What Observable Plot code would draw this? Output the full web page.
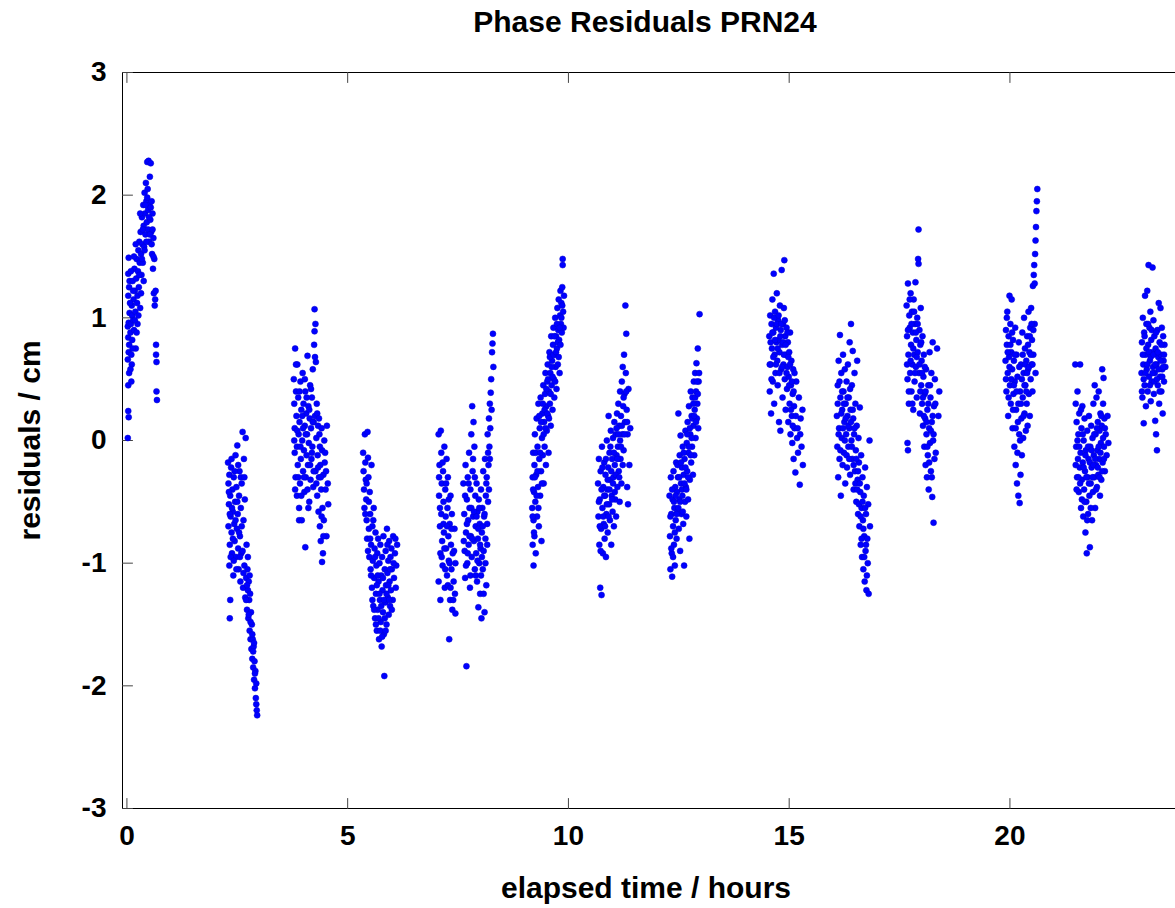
<!DOCTYPE html>
<html><head><meta charset="utf-8">
<script src="https://cdn.jsdelivr.net/npm/d3@7"></script>
<script src="https://cdn.jsdelivr.net/npm/@observablehq/plot@0.6"></script>
<style>
body{margin:0;background:#fff;overflow:hidden;font-family:"Liberation Sans",Arial,sans-serif}
#title{height:50px;width:1046px;margin-left:122px;text-align:center;font-weight:bold;font-size:30px;line-height:44px;color:#000}
</style></head><body>
<div id="title">Phase Residuals PRN24</div>
<div id="chart"></div>
<script>
const xTicks = [0, 5, 10, 15, 20];
const yTicks = [-3, -2, -1, 0, 1, 2, 3];
const xDomain = [-0.1, 23.75];
const yDomain = [-3, 3];
const xLabel = "elapsed time / hours";
const yLabel = "residuals / cm";

const pass01 = [[0.02,0.02],[0.03,0.24],[0.04,0.19],[0.03,0.45],[0.05,0.55],[0.02,0.66],[0.04,0.72],[0.03,0.84],[0.05,0.78],[0.02,0.93],[0.04,0.96],[0.06,1.04],[0.03,1.18],[0.05,1.25],[0.03,1.36],[0.06,1.30],[0.04,1.49],[0.08,0.88],[0.09,0.95],[0.10,0.70],[0.11,1.10],[0.12,1.02],[0.12,0.82],[0.13,1.30],[0.14,0.98],[0.15,1.15],[0.16,0.90],[0.17,1.40],[0.18,1.22],[0.19,1.05],[0.20,0.75],[0.21,1.32],[0.22,1.48],[0.23,1.12],[0.24,0.95],[0.25,1.38],[0.26,1.55],[0.27,1.25],[0.28,1.62],[0.29,1.45],[0.30,1.08],[0.31,1.70],[0.32,1.52],[0.33,1.35],[0.34,1.82],[0.35,1.60],[0.36,1.45],[0.37,1.92],[0.38,1.75],[0.39,1.58],[0.40,2.02],[0.41,1.85],[0.42,1.68],[0.43,2.10],[0.44,1.95],[0.45,1.78],[0.46,2.27],[0.47,2.05],[0.48,1.88],[0.49,2.28],[0.50,1.62],[0.51,1.92],[0.52,2.15],[0.53,1.80],[0.54,2.26],[0.55,1.70],[0.56,1.95],[0.57,1.52],[0.58,1.85],[0.59,1.40],[0.60,1.65],[0.61,1.20],[0.62,1.48],[0.63,1.10],[0.64,1.15],[0.65,1.22],[0.66,0.78],[0.66,0.70],[0.67,0.64],[0.67,0.40],[0.68,0.33],
  [0.07,1.12],[0.09,1.38],[0.11,0.62],[0.13,0.75],[0.14,1.22],[0.16,1.50],[0.18,0.98],[0.20,1.60],[0.22,0.88],[0.24,1.18],[0.26,1.02],[0.28,1.35],[0.30,1.85],[0.32,1.20],[0.34,1.48],[0.36,1.72],[0.38,1.30],[0.40,1.55],[0.42,1.92],[0.44,1.62],[0.46,1.98],[0.48,1.72],[0.50,1.82],[0.52,1.68],[0.54,1.90],[0.56,1.60],[0.58,1.72],[0.60,1.50],[0.08,0.58],[0.10,0.48]];
const pass02 = [[2.29,-0.18],[2.30,-0.35],[2.31,-0.52],[2.30,-0.70],[2.32,-0.28],[2.33,-0.85],[2.32,-1.02],[2.34,-0.45],[2.35,-0.62],[2.34,-1.30],[2.33,-1.45],[2.36,-0.22],[2.37,-0.75],[2.38,-0.92],[2.39,-0.40],[2.40,-0.58],[2.41,-1.10],[2.42,-0.30],[2.43,-0.68],[2.44,-0.82],[2.45,-0.50],[2.46,-0.12],[2.47,-0.95],[2.48,-0.38],[2.49,-0.72],[2.50,-0.04],[2.51,-0.60],[2.52,-0.88],[2.53,-1.05],[2.54,-0.45],[2.55,-0.25],[2.56,-0.78],[2.57,-1.15],[2.58,-0.55],[2.59,-0.92],[2.60,-0.35],[2.62,0.07],[2.63,-1.20],[2.64,-0.65],[2.65,-0.15],[2.66,-1.02],[2.67,-0.48],[2.68,-1.28],[2.69,0.02],[2.70,-1.12],[2.71,-0.85],[2.72,-1.38],[2.73,-1.05],[2.74,-1.22],[2.74,-0.95],[2.75,-1.45],[2.76,-1.15],[2.77,-1.30],[2.78,-1.55],[2.78,-1.10],[2.79,-1.25],[2.80,-1.62],[2.81,-1.40],[2.82,-1.70],[2.83,-1.50],[2.84,-1.78],[2.85,-1.62],[2.86,-1.85],[2.87,-1.68],[2.88,-1.95],[2.89,-1.80],[2.90,-2.02],[2.91,-1.88],[2.92,-2.10],[2.93,-1.98],[2.94,-2.20],[2.95,-2.24],
  [2.31,-0.42],[2.33,-0.60],[2.35,-0.95],[2.37,-0.15],[2.38,-0.55],[2.40,-0.80],[2.42,-0.98],[2.44,-0.25],[2.46,-0.65],[2.48,-1.05],[2.50,-0.50],[2.52,-0.20],[2.54,-0.75],[2.56,-0.95],[2.58,-0.30],[2.60,-0.70],[2.62,-0.90],[2.64,-1.08],[2.66,-0.30],[2.70,-1.30],[2.72,-1.18],[2.76,-1.42],[2.80,-1.48],[2.84,-1.58],[2.86,-1.72],[2.88,-1.65],[2.90,-1.90],[2.93,-2.15]];
const pass03 = [[3.78,0.50],[3.79,0.30],[3.80,0.10],[3.80,-0.10],[3.81,0.75],[3.82,-0.30],[3.83,0.40],[3.84,0.20],[3.85,-0.05],[3.85,-0.45],[3.86,0.62],[3.87,-0.20],[3.88,0.35],[3.89,0.05],[3.90,-0.55],[3.90,-0.65],[3.91,0.15],[3.92,-0.35],[3.93,0.48],[3.94,-0.15],[3.95,0.25],[3.96,-0.65],[3.97,0.00],[3.98,0.55],[3.99,-0.25],[4.00,0.30],[4.01,-0.08],[4.02,-0.42],[4.03,0.12],[4.04,0.40],[4.04,-0.87],[4.05,-0.30],[4.06,0.22],[4.07,-0.12],[4.08,0.05],[4.09,0.69],[4.10,-0.20],[4.11,0.28],[4.12,-0.02],[4.13,-0.50],[4.14,0.18],[4.15,0.45],[4.16,-0.32],[4.17,0.10],[4.18,-0.15],[4.19,0.35],[4.20,-0.05],[4.21,0.58],[4.22,-0.38],[4.23,0.15],[4.24,0.78],[4.25,1.07],[4.25,0.89],[4.26,0.68],[4.26,0.20],[4.27,0.95],[4.27,-0.25],[4.28,0.64],[4.29,0.02],[4.30,0.30],[4.31,-0.45],[4.32,-0.12],[4.33,0.12],[4.34,-0.58],[4.35,-0.30],[4.36,0.05],[4.37,-0.70],[4.38,-0.20],[4.39,-0.82],[4.40,-0.40],[4.41,0.10],[4.42,-0.08],[4.42,-0.99],[4.43,-0.55],[4.44,-0.92],[4.45,-0.28],[4.46,-0.65],[4.47,0.00],[4.48,-0.18],[4.50,-0.40],[4.52,-0.78],[4.53,0.12],[4.55,-0.35],[4.56,-0.52],
  [3.79,0.00],[3.81,-0.40],[3.83,0.62],[3.86,0.08],[3.88,-0.30],[3.91,0.40],[3.93,-0.05],[3.95,-0.45],[3.97,0.20],[3.99,0.10],[4.01,-0.30],[4.03,0.50],[4.05,0.05],[4.07,0.35],[4.09,-0.40],[4.11,-0.55],[4.13,0.25],[4.15,-0.20],[4.17,0.42],[4.19,-0.10],[4.21,0.15],[4.23,-0.25],[4.29,-0.35],[4.31,0.22],[4.33,-0.22],[4.35,0.18],[4.37,-0.05],[4.39,-0.30],[4.41,-0.62],[4.45,-0.78],[4.49,-0.10],[4.51,-0.25]];
const pass04 = [[5.35,-0.10],[5.36,-0.25],[5.37,-0.40],[5.38,-0.55],[5.39,0.05],[5.40,-0.18],[5.41,-0.32],[5.42,-0.48],[5.43,-0.65],[5.44,-0.80],[5.45,0.07],[5.46,-0.14],[5.47,-0.30],[5.48,-0.72],[5.49,-0.95],[5.50,-0.42],[5.51,-0.60],[5.52,-1.05],[5.53,-0.85],[5.54,-0.20],[5.55,-1.20],[5.56,-0.70],[5.57,-0.98],[5.58,-1.35],[5.59,-0.55],[5.60,-1.12],[5.61,-0.88],[5.62,-1.45],[5.63,-0.75],[5.64,-1.25],[5.65,-1.02],[5.66,-1.55],[5.67,-0.92],[5.68,-1.38],[5.69,-0.80],[5.70,-1.15],[5.71,-1.62],[5.72,-1.00],[5.73,-1.30],[5.74,-0.85],[5.75,-1.48],[5.76,-1.10],[5.77,-1.68],[5.78,-0.95],[5.79,-1.22],[5.80,-1.40],[5.81,-0.78],[5.82,-1.58],[5.83,-1.92],[5.84,-1.05],[5.85,-1.32],[5.86,-0.90],[5.87,-1.18],[5.88,-1.50],[5.89,-0.72],[5.90,-1.08],[5.91,-1.28],[5.92,-0.98],[5.93,-1.42],[5.94,-0.82],[5.95,-1.15],[5.96,-1.35],[5.97,-0.95],[5.98,-1.22],[5.99,-0.88],[6.00,-1.05],[6.02,-1.30],[6.03,-0.78],[6.05,-1.12],[6.07,-0.92],[6.09,-1.20],[6.10,-1.02],[6.12,-0.85],
  [5.40,-0.60],[5.43,-0.35],[5.46,-0.90],[5.48,-0.50],[5.51,-0.80],[5.53,-1.10],[5.56,-1.30],[5.58,-0.65],[5.60,-1.38],[5.62,-0.95],[5.64,-1.50],[5.66,-1.18],[5.68,-1.10],[5.70,-1.45],[5.72,-1.25],[5.74,-1.55],[5.76,-1.35],[5.78,-1.60],[5.80,-1.12],[5.82,-1.30],[5.84,-1.45],[5.86,-1.55],[5.88,-1.25],[5.90,-0.85],[5.92,-1.18],[5.94,-1.30],[5.96,-1.05],[6.00,-1.38],[6.04,-1.00],[6.08,-0.80]];
const pass05 = [[7.06,0.05],[7.08,-0.20],[7.07,-0.45],[7.09,-0.70],[7.10,-0.92],[7.06,-1.15],[7.11,0.08],[7.12,-0.10],[7.13,-0.35],[7.12,-0.60],[7.14,-0.82],[7.15,-1.02],[7.16,-0.25],[7.17,-0.50],[7.18,-0.75],[7.19,-0.05],[7.20,-1.20],[7.21,-0.40],[7.22,-0.62],[7.23,-0.88],[7.24,-0.15],[7.25,-1.10],[7.26,-0.55],[7.27,-0.30],[7.28,-0.78],[7.29,-0.98],[7.30,-1.62],[7.31,-0.68],[7.32,-1.30],[7.33,-0.45],[7.34,-0.85],[7.35,-1.05],[7.36,-0.60],[7.37,-1.38],[7.38,-0.92],[7.40,-1.15],[7.42,-0.72],[7.43,-1.25],[7.44,-1.00],
  [7.07,-0.30],[7.09,-0.55],[7.10,-1.30],[7.13,-0.95],[7.15,-0.18],[7.17,-0.68],[7.19,-0.88],[7.21,-1.05],[7.23,-0.35],[7.25,-0.70],[7.27,-1.18],[7.29,-0.48],[7.31,-1.00],[7.33,-1.20],[7.35,-0.72],[7.39,-1.30],[7.41,-0.90],[7.44,-1.41]];
const pass06 = [[7.62,-0.35],[7.64,-0.60],[7.65,-0.90],[7.66,-1.12],[7.67,-0.20],[7.68,-0.75],[7.69,-1.84],[7.70,-0.48],[7.71,-1.00],[7.72,-0.30],[7.73,-0.65],[7.74,-0.85],[7.75,-0.10],[7.76,-0.55],[7.77,-1.20],[7.78,-0.40],[7.79,-0.78],[7.80,0.05],[7.81,-0.95],[7.82,0.28],[7.83,-0.25],[7.84,-0.62],[7.85,0.15],[7.86,-0.82],[7.87,-0.05],[7.88,-1.05],[7.89,-0.45],[7.90,-0.70],[7.91,-0.92],[7.92,-0.35],[7.93,-1.15],[7.94,-0.58],[7.95,-0.80],[7.96,-1.36],[7.97,-0.48],[7.98,-1.00],[7.99,-0.68],[8.00,-1.25],[8.01,-0.88],[8.02,-0.40],[8.03,-1.45],[8.04,-0.75],[8.05,-0.55],[8.06,-1.05],[8.07,-0.25],[8.08,-0.90],[8.09,-0.62],[8.10,-1.40],[8.11,-0.15],[8.12,-0.80],[8.13,-0.45],[8.14,-1.18],[8.15,-0.30],[8.16,-0.68],[8.17,0.05],[8.18,-0.50],[8.19,-0.20],[8.20,0.18],[8.21,-0.05],[8.22,0.30],[8.23,0.10],[8.24,0.39],[8.25,0.50],[8.26,0.25],[8.27,0.72],[8.28,0.79],[8.29,0.87],[8.30,0.60],
  [7.63,-0.82],[7.66,-0.45],[7.68,-1.02],[7.70,-0.68],[7.72,-0.92],[7.74,-0.35],[7.76,-0.78],[7.78,-1.10],[7.80,-0.55],[7.82,-0.80],[7.84,-0.15],[7.86,-0.58],[7.88,-0.30],[7.90,-1.10],[7.92,-0.62],[7.94,-0.98],[7.96,-0.72],[7.98,-0.55],[8.00,-0.85],[8.02,-1.10],[8.04,-0.95],[8.06,-0.70],[8.08,-1.25],[8.10,-0.60],[8.12,-1.00],[8.14,-0.35],[8.16,-0.85],[8.18,-0.10],[8.20,-0.40],[8.22,-0.15]];
const pass07 = [[9.18,-0.55],[9.19,-0.30],[9.19,-0.85],[9.20,-0.10],[9.21,-0.65],[9.21,-1.02],[9.22,-0.42],[9.23,-0.20],[9.23,-0.78],[9.24,0.05],[9.25,-0.50],[9.26,-0.92],[9.27,-0.28],[9.28,0.18],[9.29,-0.62],[9.30,-0.05],[9.31,-0.38],[9.32,0.30],[9.33,-0.70],[9.34,-0.15],[9.35,0.10],[9.36,-0.45],[9.37,0.35],[9.38,-0.25],[9.39,-0.82],[9.40,0.02],[9.41,0.22],[9.42,-0.12],[9.43,0.45],[9.44,-0.35],[9.45,0.15],[9.46,-0.05],[9.47,0.38],[9.48,0.55],[9.49,-0.20],[9.50,0.28],[9.51,0.08],[9.52,0.48],[9.53,0.62],[9.54,0.20],[9.55,-0.10],[9.56,0.40],[9.57,0.72],[9.58,0.30],[9.59,0.55],[9.60,0.12],[9.61,0.85],[9.62,0.45],[9.63,0.65],[9.64,0.25],[9.65,0.78],[9.66,0.92],[9.67,0.50],[9.68,0.35],[9.69,0.70],[9.70,1.00],[9.71,0.60],[9.72,0.85],[9.73,0.42],[9.74,0.75],[9.75,1.08],[9.76,0.62],[9.77,0.90],[9.78,1.15],[9.79,0.82],[9.80,0.55],[9.81,1.02],[9.82,1.22],[9.83,0.95],[9.84,1.12],[9.85,0.88],[9.86,1.25],[9.87,1.43],[9.87,1.48],[9.88,1.05],[9.89,0.92],[9.90,1.18],
  [9.19,-0.62],[9.20,-0.40],[9.22,-0.75],[9.24,-0.30],[9.26,-0.10],[9.28,-0.45],[9.30,-0.25],[9.32,-0.55],[9.34,0.20],[9.36,-0.10],[9.38,0.15],[9.40,-0.35],[9.42,0.30],[9.44,0.05],[9.46,0.25],[9.48,0.10],[9.50,0.42],[9.52,0.22],[9.54,0.50],[9.56,0.18],[9.58,0.68],[9.60,0.38],[9.62,0.60],[9.64,0.52],[9.66,0.70],[9.68,0.85],[9.70,0.48],[9.72,0.72],[9.74,0.95],[9.76,0.80],[9.78,0.68],[9.80,0.92],[9.82,0.78],[9.84,1.00],[9.86,1.10]];
const pass08 = [[10.67,-0.35],[10.68,-0.62],[10.69,-0.15],[10.70,-0.85],[10.71,-0.48],[10.72,-1.20],[10.73,-0.25],[10.74,-0.72],[10.75,-1.26],[10.76,-0.05],[10.77,-0.55],[10.78,-0.92],[10.79,-0.38],[10.80,-0.68],[10.81,-0.18],[10.82,-0.80],[10.83,-0.45],[10.84,-0.28],[10.85,-0.95],[10.86,-0.60],[10.87,0.00],[10.88,-0.40],[10.89,-0.75],[10.90,-0.22],[10.91,0.20],[10.92,-0.52],[10.93,-0.10],[10.94,-0.65],[10.95,-0.32],[10.96,0.08],[10.97,-0.85],[10.98,-0.45],[10.99,-0.15],[11.00,-0.58],[11.01,0.02],[11.02,-0.30],[11.03,-0.70],[11.04,0.15],[11.05,-0.20],[11.06,-0.48],[11.07,0.05],[11.08,-0.62],[11.09,-0.12],[11.10,0.22],[11.11,-0.38],[11.12,-0.05],[11.13,0.30],[11.14,-0.25],[11.15,0.12],[11.16,-0.50],[11.17,0.40],[11.18,-0.15],[11.19,0.20],[11.20,-0.35],[11.21,0.48],[11.22,0.05],[11.23,0.60],[11.24,0.28],[11.25,-0.08],[11.26,0.70],[11.27,0.38],[11.28,0.15],[11.29,1.10],[11.30,0.55],[11.31,0.87],[11.32,0.25],[11.33,-0.38],[11.34,0.05],[11.35,-0.52],[11.36,0.42],[11.38,-0.20],[11.40,0.10],
  [10.69,-0.50],[10.71,-0.70],[10.73,-0.90],[10.75,-0.40],[10.77,-0.22],[10.79,-0.62],[10.81,-0.45],[10.83,-0.70],[10.85,-0.15],[10.87,-0.52],[10.89,-0.32],[10.91,-0.62],[10.93,-0.40],[10.95,-0.05],[10.97,-0.25],[10.99,-0.48],[11.01,-0.35],[11.03,-0.10],[11.05,-0.42],[11.07,-0.28],[11.09,0.10],[11.11,-0.15],[11.13,0.05],[11.15,-0.30],[11.17,0.00],[11.19,-0.05],[11.21,0.12],[11.23,-0.20],[11.25,0.35],[11.27,0.05],[11.31,0.40],[11.33,0.15]];
const pass09 = [[12.29,-0.45],[12.30,-0.78],[12.31,-1.05],[12.32,-0.30],[12.33,-0.60],[12.34,-0.92],[12.35,-1.11],[12.36,-0.48],[12.37,-0.70],[12.38,-0.25],[12.39,-0.85],[12.40,-0.55],[12.41,-1.02],[12.42,-0.38],[12.43,-0.65],[12.44,-0.18],[12.45,-0.80],[12.46,-0.42],[12.47,-0.58],[12.48,-0.30],[12.49,0.22],[12.50,-0.72],[12.51,-0.48],[12.52,-0.12],[12.53,-0.90],[12.54,0.04],[12.55,-0.35],[12.56,-0.60],[12.57,-0.22],[12.58,-0.45],[12.59,-0.05],[12.60,-0.68],[12.61,-0.28],[12.62,-1.02],[12.63,-0.15],[12.64,-0.50],[12.65,0.08],[12.66,-0.38],[12.67,-0.62],[12.68,-0.02],[12.69,-0.25],[12.70,0.15],[12.71,-0.48],[12.72,-0.10],[12.73,0.28],[12.74,-0.80],[12.75,-0.32],[12.76,0.05],[12.77,0.40],[12.78,-0.18],[12.79,0.20],[12.80,-0.05],[12.81,0.35],[12.82,-0.28],[12.83,0.12],[12.84,0.48],[12.85,-0.12],[12.86,0.25],[12.87,0.55],[12.88,0.02],[12.89,0.40],[12.90,0.63],[12.91,0.18],[12.92,0.30],[12.93,0.75],[12.94,0.10],[12.95,0.48],[12.96,0.55],[12.97,1.03],
  [12.31,-0.62],[12.33,-0.88],[12.35,-0.40],[12.37,-0.95],[12.39,-0.50],[12.41,-0.75],[12.43,-0.45],[12.45,-0.60],[12.47,-0.20],[12.49,-0.55],[12.51,-0.30],[12.53,-0.50],[12.55,-0.18],[12.57,-0.40],[12.59,-0.58],[12.61,-0.10],[12.63,-0.35],[12.65,-0.22],[12.67,-0.40],[12.69,0.05],[12.71,-0.30],[12.73,-0.05],[12.75,0.10],[12.77,-0.12],[12.79,0.02],[12.81,0.18],[12.83,0.30],[12.85,0.20],[12.87,0.35],[12.89,0.15],[12.91,0.48],[12.93,0.38]];
const pass10 = [[14.55,0.85],[14.56,0.40],[14.57,1.02],[14.58,0.62],[14.59,0.22],[14.60,0.95],[14.61,0.75],[14.62,1.15],[14.63,0.48],[14.64,0.88],[14.65,1.36],[14.66,0.30],[14.67,0.70],[14.68,1.05],[14.69,0.55],[14.70,0.92],[14.71,0.80],[14.72,1.20],[14.73,0.65],[14.74,0.45],[14.75,0.98],[14.76,0.82],[14.77,0.15],[14.78,0.72],[14.79,1.10],[14.80,0.08],[14.81,0.90],[14.82,0.58],[14.83,1.39],[14.84,0.78],[14.85,0.35],[14.86,0.95],[14.87,0.62],[14.88,1.08],[14.89,1.47],[14.90,0.50],[14.91,0.85],[14.92,0.25],[14.93,0.70],[14.94,0.92],[14.95,0.42],[14.96,0.60],[14.97,0.80],[14.98,0.15],[14.99,0.52],[15.00,0.72],[15.01,0.30],[15.02,0.88],[15.03,0.05],[15.04,0.45],[15.05,0.65],[15.06,0.20],[15.07,-0.02],[15.08,0.38],[15.09,0.58],[15.10,-0.15],[15.11,0.28],[15.12,0.10],[15.14,-0.26],[15.16,0.48],[15.18,0.02],[15.20,-0.10],[15.22,0.35],[15.24,-0.36],[15.26,0.18],[15.28,-0.05],[15.30,0.25],[15.31,-0.20],
  [14.56,0.62],[14.58,0.80],[14.60,0.50],[14.62,0.88],[14.64,0.68],[14.66,1.00],[14.68,0.82],[14.70,0.62],[14.72,0.95],[14.74,0.75],[14.76,1.02],[14.78,0.55],[14.80,0.85],[14.82,0.95],[14.84,0.60],[14.86,0.80],[14.88,0.70],[14.90,0.98],[14.92,0.78],[14.94,0.55],[14.96,0.88],[14.98,0.68],[15.00,0.45],[15.02,0.62],[15.04,0.25],[15.06,0.48],[15.08,0.12],[15.10,0.40],[15.12,0.55],[15.15,0.20],[15.19,0.10],[15.25,0.05]];
const pass11 = [[16.08,0.20],[16.09,-0.05],[16.10,0.45],[16.11,-0.30],[16.12,0.65],[16.13,0.10],[16.14,-0.15],[16.15,0.86],[16.16,0.35],[16.17,-0.45],[16.18,0.55],[16.19,0.02],[16.20,0.25],[16.21,-0.20],[16.22,0.70],[16.23,0.40],[16.24,-0.10],[16.25,0.15],[16.26,0.58],[16.27,-0.35],[16.28,0.30],[16.29,0.05],[16.30,0.48],[16.31,-0.22],[16.32,0.20],[16.33,0.62],[16.34,-0.05],[16.35,0.35],[16.36,0.10],[16.37,0.80],[16.38,-0.28],[16.39,0.25],[16.40,0.95],[16.41,0.00],[16.42,0.45],[16.43,-0.15],[16.44,0.73],[16.45,0.18],[16.46,-0.40],[16.47,0.05],[16.48,0.55],[16.49,-0.25],[16.50,0.30],[16.51,-0.08],[16.52,-0.50],[16.53,0.12],[16.54,0.65],[16.55,-0.32],[16.56,-0.60],[16.57,0.02],[16.58,-0.18],[16.59,-0.70],[16.60,0.27],[16.61,-0.42],[16.62,-0.85],[16.63,-0.12],[16.64,-0.55],[16.65,-0.95],[16.66,-0.30],[16.67,-0.65],[16.68,-1.05],[16.69,-0.45],[16.70,-0.78],[16.71,-1.15],[16.72,-0.22],[16.73,-0.90],[16.74,-0.60],[16.75,-1.22],[16.76,-0.38],[16.77,-0.80],[16.78,-1.00],[16.79,-0.52],[16.80,-1.25],[16.82,0.00],[16.83,-0.70],
  [16.10,0.30],[16.12,0.05],[16.14,0.48],[16.16,-0.08],[16.18,0.22],[16.20,0.40],[16.22,0.10],[16.24,0.30],[16.26,0.00],[16.28,0.18],[16.30,-0.12],[16.32,0.35],[16.34,0.12],[16.36,-0.15],[16.38,0.42],[16.40,0.15],[16.42,-0.05],[16.44,0.25],[16.46,-0.20],[16.48,0.10],[16.50,-0.35],[16.52,-0.15],[16.54,-0.40],[16.56,-0.25],[16.58,-0.52],[16.60,-0.35],[16.62,-0.62],[16.64,-0.80],[16.66,-0.50],[16.68,-0.72],[16.70,-0.95],[16.72,-0.55],[16.74,-0.85],[16.76,-1.10]];
const pass12 = [[17.66,1.10],[17.67,0.85],[17.68,0.50],[17.68,-0.02],[17.69,1.28],[17.69,-0.08],[17.70,0.70],[17.71,0.30],[17.72,1.02],[17.73,0.92],[17.74,0.55],[17.75,1.20],[17.76,0.78],[17.77,0.40],[17.78,1.05],[17.79,0.62],[17.80,0.88],[17.81,0.25],[17.82,1.15],[17.83,0.70],[17.84,0.48],[17.85,0.95],[17.86,1.29],[17.87,0.60],[17.88,0.82],[17.89,0.35],[17.90,1.00],[17.91,0.72],[17.92,1.48],[17.93,1.72],[17.93,1.44],[17.94,0.55],[17.95,0.90],[17.96,0.22],[17.97,0.78],[17.98,1.08],[17.99,0.45],[18.00,0.65],[18.01,0.30],[18.02,0.85],[18.03,0.12],[18.04,0.52],[18.05,0.70],[18.06,-0.05],[18.07,0.38],[18.08,0.18],[18.09,-0.20],[18.10,0.58],[18.11,0.05],[18.12,-0.30],[18.13,0.25],[18.14,-0.12],[18.15,0.45],[18.16,-0.40],[18.17,0.10],[18.18,0.72],[18.19,-0.02],[18.20,0.35],[18.21,-0.25],[18.22,0.55],[18.23,0.15],[18.24,-0.46],[18.25,0.80],[18.26,0.00],[18.27,-0.67],[18.28,0.28],[18.30,0.50],[18.32,-0.10],[18.35,0.75],[18.38,0.20],[18.40,0.40],
  [17.67,0.62],[17.69,0.90],[17.71,0.40],[17.73,1.15],[17.75,0.65],[17.77,0.95],[17.79,0.30],[17.81,0.75],[17.83,1.05],[17.85,0.55],[17.87,0.88],[17.89,0.68],[17.91,0.95],[17.95,0.62],[17.97,0.40],[17.99,0.80],[18.01,0.55],[18.03,0.35],[18.05,0.20],[18.07,0.60],[18.09,0.40],[18.11,0.15],[18.13,-0.05],[18.15,0.30],[18.17,-0.18],[18.19,0.45],[18.21,0.08],[18.23,-0.30],[18.25,0.20],[18.27,0.05],[18.29,-0.15],[18.31,0.30]];
const pass13 = [[19.90,0.65],[19.91,0.90],[19.92,0.40],[19.93,0.78],[19.94,1.05],[19.95,0.55],[19.96,0.20],[19.97,0.85],[19.98,0.68],[19.99,1.18],[20.00,0.45],[20.01,0.95],[20.02,0.30],[20.03,0.72],[20.04,1.15],[20.05,0.58],[20.06,0.10],[20.07,0.82],[20.08,0.38],[20.09,0.65],[20.10,-0.05],[20.11,0.48],[20.12,0.92],[20.13,-0.20],[20.14,0.25],[20.15,0.70],[20.16,-0.35],[20.17,0.52],[20.18,0.15],[20.19,-0.45],[20.20,0.80],[20.21,0.05],[20.22,-0.51],[20.23,0.40],[20.24,-0.28],[20.25,0.62],[20.26,0.18],[20.27,-0.12],[20.28,0.88],[20.29,0.35],[20.30,0.02],[20.31,0.55],[20.32,1.00],[20.33,0.22],[20.34,0.75],[20.35,0.45],[20.36,0.08],[20.37,0.65],[20.38,0.30],[20.39,0.85],[20.40,0.12],[20.41,0.58],[20.42,1.05],[20.43,0.38],[20.44,0.72],[20.45,0.20],[20.46,0.92],[20.47,0.50],[20.48,1.08],[20.49,0.62],[20.50,0.82],[20.51,0.40],[20.52,1.26],[20.53,0.70],[20.54,1.35],[20.55,1.43],[20.56,0.95],[20.56,1.28],[20.57,1.52],[20.58,1.63],[20.58,0.55],[20.59,1.74],[20.60,1.87],[20.61,1.95],[20.62,2.05],
  [19.91,0.50],[19.93,1.00],[19.95,0.72],[19.97,0.35],[19.99,0.60],[20.01,0.78],[20.03,0.50],[20.05,0.88],[20.07,0.25],[20.09,0.45],[20.11,0.70],[20.13,0.10],[20.15,0.40],[20.17,-0.10],[20.19,0.30],[20.21,0.60],[20.23,0.00],[20.25,0.30],[20.27,0.50],[20.29,0.70],[20.31,0.20],[20.33,0.45],[20.35,0.62],[20.37,0.40],[20.39,0.55],[20.41,0.78],[20.43,0.60],[20.45,0.85],[20.47,0.70],[20.49,0.95],[20.51,0.62],[20.53,0.90]];
const pass14 = [[21.48,0.62],[21.49,0.30],[21.50,-0.05],[21.51,0.15],[21.52,-0.30],[21.53,0.40],[21.54,-0.15],[21.55,0.05],[21.56,-0.42],[21.57,0.22],[21.58,-0.22],[21.59,0.62],[21.60,-0.10],[21.61,-0.55],[21.62,0.10],[21.63,-0.32],[21.64,0.28],[21.65,-0.18],[21.66,-0.62],[21.67,0.00],[21.68,-0.40],[21.69,0.18],[21.70,-0.25],[21.71,-0.75],[21.72,-0.08],[21.73,-0.50],[21.74,-0.92],[21.75,0.08],[21.76,-0.30],[21.77,-0.60],[21.78,-0.15],[21.79,0.20],[21.80,-0.45],[21.81,-0.87],[21.82,-0.05],[21.83,-0.35],[21.84,0.12],[21.85,-0.22],[21.86,-0.65],[21.87,0.02],[21.88,-0.42],[21.89,0.30],[21.90,-0.12],[21.91,-0.30],[21.92,0.45],[21.93,-0.55],[21.94,0.05],[21.95,-0.20],[21.96,0.35],[21.97,-0.38],[21.98,-0.08],[21.99,0.15],[22.00,-0.28],[22.01,0.40],[22.02,-0.15],[22.03,0.08],[22.04,-0.45],[22.05,0.22],[22.06,-0.02],[22.07,-0.32],[22.08,0.12],[22.09,0.58],[22.10,-0.18],[22.11,0.30],[22.12,0.51],[22.13,-0.05],[22.14,0.18],[22.15,-0.25],[22.17,0.05],[22.19,-0.12],[22.21,0.20],[22.23,-0.02],
  [21.49,-0.20],[21.51,-0.40],[21.53,0.00],[21.55,-0.30],[21.57,-0.05],[21.59,-0.35],[21.61,0.25],[21.63,-0.48],[21.65,0.05],[21.67,-0.22],[21.69,-0.50],[21.71,-0.12],[21.73,-0.30],[21.75,-0.65],[21.77,-0.05],[21.79,-0.35],[21.81,-0.18],[21.83,-0.55],[21.85,-0.08],[21.87,-0.30],[21.89,-0.20],[21.91,0.05],[21.93,-0.15],[21.95,-0.40],[21.97,0.10],[21.99,-0.22],[22.01,-0.05],[22.03,-0.30],[22.05,-0.10],[22.07,0.20],[22.09,-0.25],[22.11,0.02],[22.13,-0.15],[22.15,0.10]];
const pass15 = [[22.98,0.55],[22.99,0.80],[23.00,0.35],[23.01,1.00],[23.02,0.62],[23.03,0.14],[23.04,0.88],[23.05,0.45],[23.06,1.18],[23.07,0.70],[23.08,0.28],[23.09,0.95],[23.10,0.58],[23.11,1.22],[23.12,0.40],[23.13,0.78],[23.14,1.43],[23.15,0.52],[23.16,0.92],[23.17,0.65],[23.18,1.05],[23.19,0.32],[23.20,0.82],[23.21,0.48],[23.22,0.72],[23.23,1.41],[23.24,0.60],[23.25,0.98],[23.26,0.38],[23.27,0.85],[23.28,0.55],[23.29,0.16],[23.30,0.75],[23.31,0.05],[23.32,0.62],[23.33,-0.08],[23.34,0.90],[23.35,0.45],[23.36,0.68],[23.37,1.12],[23.38,0.30],[23.39,0.80],[23.40,0.52],[23.41,1.08],[23.42,0.70],[23.43,0.40],[23.44,0.92],[23.45,0.58],[23.46,0.22],[23.47,0.85],[23.48,0.65],[23.49,0.48],[23.50,0.78],[23.52,0.60],
  [22.99,0.40],[23.01,0.70],[23.03,0.50],[23.05,0.85],[23.07,0.55],[23.09,0.75],[23.11,0.62],[23.13,0.95],[23.15,0.72],[23.17,0.45],[23.19,0.68],[23.21,0.90],[23.23,0.55],[23.25,0.70],[23.27,0.48],[23.29,0.62],[23.31,0.88],[23.33,0.50],[23.35,0.72],[23.37,0.58],[23.39,0.40],[23.41,0.65],[23.43,0.78],[23.45,0.52],[23.47,0.60],[23.49,0.70]];

const passes = [pass01, pass02, pass03, pass04, pass05, pass06, pass07, pass08, pass09, pass10, pass11, pass12, pass13, pass14, pass15];
const points = passes.flatMap(p => p.map(([hours, residual]) => ({hours, residual})));

const font = '"Liberation Sans", Arial, sans-serif';
const tickShape = {draw(context, l) { context.moveTo(0, 0); context.lineTo(0, -l); }};

const chart = Plot.plot({
  width: 1175, height: 858,
  marginTop: 22, marginBottom: 100, marginLeft: 122, marginRight: 0,
  style: {background: "#fff", color: "#000", fontFamily: font},
  x: {domain: xDomain},
  y: {domain: yDomain},
  marks: [
    Plot.ruleX([xDomain[0]], {stroke: "#000", strokeWidth: 1}),
    Plot.ruleY([yDomain[0], yDomain[1]], {stroke: "#000", strokeWidth: 1}),
    Plot.vector(yTicks, {y: d => d, frameAnchor: "left", rotate: 90, length: 10, anchor: "start", shape: tickShape, stroke: "#444", strokeWidth: 1}),
    Plot.vector(xTicks, {x: d => d, frameAnchor: "bottom", rotate: 0, length: 10, anchor: "start", shape: tickShape, stroke: "#444", strokeWidth: 1}),
    Plot.vector(xTicks, {x: d => d, frameAnchor: "top", rotate: 180, length: 10, anchor: "start", shape: tickShape, stroke: "#444", strokeWidth: 1}),
    Plot.axisY({ticks: yTicks, tickSize: 0, tickPadding: 16, tickFormat: d => String(d), label: null, fontSize: 28, fontWeight: "bold", fontFamily: font, fill: "#000"}),
    Plot.axisX({ticks: xTicks, tickSize: 0, tickPadding: 17, tickFormat: d => String(d), label: null, fontSize: 28, fontWeight: "bold", fontFamily: font, fill: "#000"}),
    Plot.text([xLabel], {text: d => d, frameAnchor: "bottom", dy: 80, dx: -3, textAnchor: "middle", lineAnchor: "middle", fontSize: 30, fontWeight: "bold", fontFamily: font, fill: "#000"}),
    Plot.text([yLabel], {text: d => d, frameAnchor: "left", dx: -92, rotate: -90, textAnchor: "middle", lineAnchor: "middle", fontSize: 30, fontWeight: "bold", fontFamily: font, fill: "#000"}),
    Plot.dot(points, {x: "hours", y: "residual", r: 3, fill: "#0000ff", stroke: "#0000cc", strokeWidth: 0.5})
  ]
});
document.getElementById("chart").appendChild(chart);
</script>
</body></html>
